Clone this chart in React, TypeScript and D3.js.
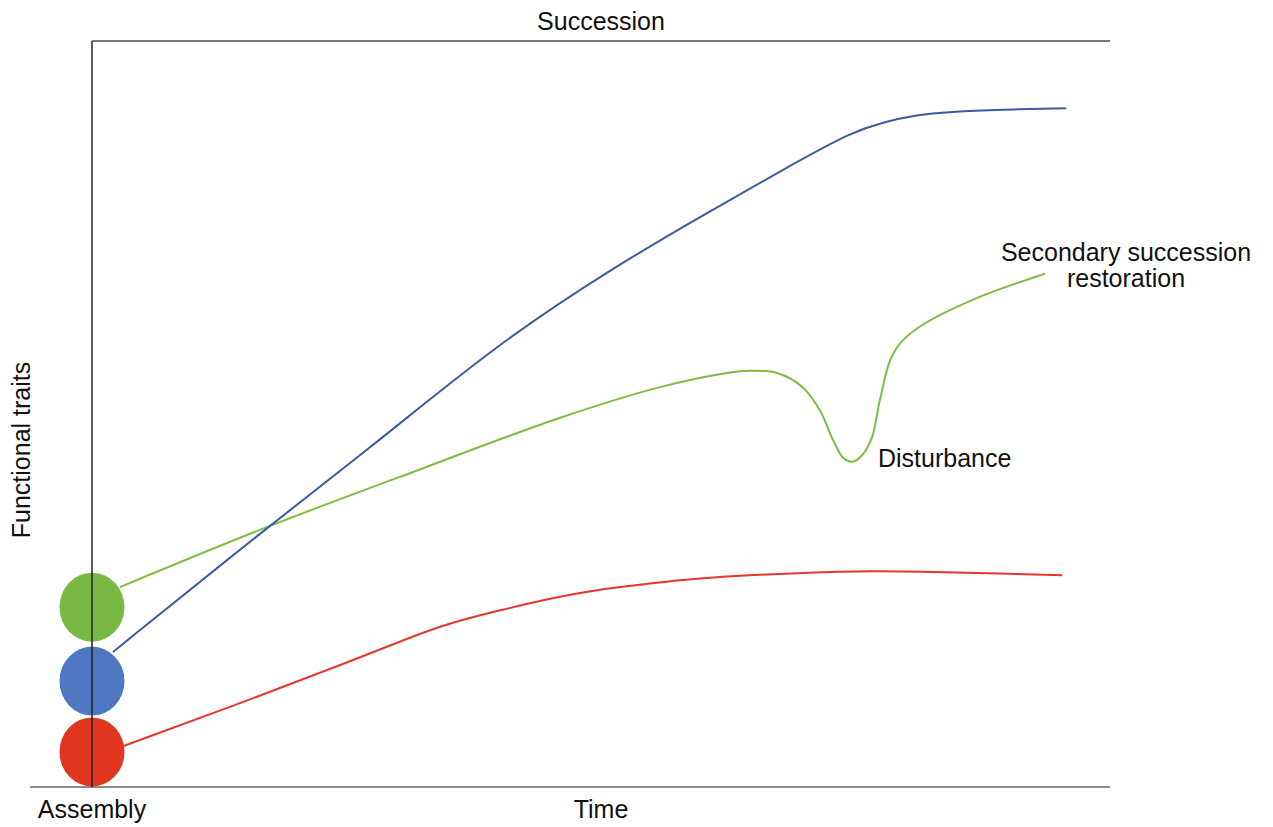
import React, { useRef, useEffect } from "react";
import * as d3 from "d3";

// [time, trait] points (time 0-100, trait 0-100)
const bluePath: [number, number][] = [
    [2.06, 18.1], [17.3, 34.9], [28.3, 46.5], [40.1, 59.7], [51.9, 70.2],
    [59.7, 76.4], [69.5, 84.0], [74.5, 87.7], [77.7, 89.1], [81.0, 90.1],
    [84.3, 90.5], [89.2, 90.8], [95.7, 91.0],
];
const greenPath: [number, number][] = [
    [2.75, 26.8], [17.3, 34.9], [30.3, 41.6], [46.0, 49.5], [55.8, 53.6],
    [62.4, 55.5], [64.6, 55.8], [67.3, 55.5], [69.8, 53.6], [71.5, 50.5],
    [72.8, 46.5], [73.8, 44.1], [74.7, 43.6], [75.6, 44.4], [76.6, 46.8],
    [77.4, 51.9], [78.4, 57.2], [79.4, 59.5], [81.3, 61.7], [86.5, 65.3],
    [93.6, 68.8],
];
const redPath: [number, number][] = [
    [3.1, 5.5], [15.5, 11.7], [25.3, 16.8], [31.9, 20.4], [35.2, 22.0],
    [40.1, 23.7], [45.0, 25.3], [49.9, 26.5], [54.8, 27.3], [59.7, 28.0],
    [64.6, 28.4], [69.5, 28.7], [76.4, 29.0], [84.3, 28.8], [95.3, 28.4],
];

// starting communities at assembly
const startNodes = [
    { name: "green", trait: 24.1 },
    { name: "blue", trait: 14.2 },
    { name: "red", trait: 4.7 },
];

const lineColors: Record<string, string> = { blue: "#3b5ca3", green: "#7cbd44", red: "#e6362a" };
const nodeColors: Record<string, string> = { blue: "#4f77c2", green: "#79b843", red: "#e0361f" };

const W = 1273;
const H = 827;

const App: React.FC = () => {
    const svgRef = useRef<SVGSVGElement | null>(null);

    useEffect(() => {
        if (!svgRef.current) return;
        const svg = d3.select(svgRef.current);
        svg.selectAll("*").remove();

        const x = d3.scaleLinear().domain([0, 100]).range([92, 1110]);
        const y = d3.scaleLinear().domain([0, 100]).range([787, 41]);

        const font = "'Liberation Sans', Arial, Helvetica, sans-serif";

        // frame lines
        svg.append("line")
            .attr("x1", 30).attr("x2", x(100))
            .attr("y1", y(0)).attr("y2", y(0))
            .attr("stroke", "#8a8a8a").attr("stroke-width", 2);
        svg.append("line")
            .attr("x1", x(0)).attr("x2", x(100))
            .attr("y1", y(100)).attr("y2", y(100))
            .attr("stroke", "#7a7a7a").attr("stroke-width", 1.8);

        // smooth curves; the green dip needs an interpolating curve
        const smooth = d3.line<[number, number]>()
            .x((d) => x(d[0]))
            .y((d) => y(d[1]))
            .curve(d3.curveBasis);
        const through = d3.line<[number, number]>()
            .x((d) => x(d[0]))
            .y((d) => y(d[1]))
            .curve(d3.curveCatmullRom.alpha(0.5));

        const paths: [string, [number, number][], typeof smooth][] = [
            ["red", redPath, smooth],
            ["green", greenPath, through],
            ["blue", bluePath, smooth],
        ];
        paths.forEach(([name, pts, gen]) => {
            svg.append("path")
                .attr("d", gen(pts))
                .attr("fill", "none")
                .attr("stroke", lineColors[name])
                .attr("stroke-width", 2);
        });

        // circles
        svg.selectAll(".node")
            .data(startNodes)
            .enter()
            .append("ellipse")
            .attr("cx", x(0))
            .attr("cy", (d) => y(d.trait))
            .attr("rx", 32.5)
            .attr("ry", 34.5)
            .attr("fill", (d) => nodeColors[d.name]);

        // vertical axis on top
        svg.append("line")
            .attr("x1", x(0)).attr("x2", x(0))
            .attr("y1", y(100)).attr("y2", y(0))
            .attr("stroke", "#222").attr("stroke-width", 1.5);

        const text = (t: string, tx: number, ty: number, anchor = "middle") =>
            svg.append("text")
                .attr("x", tx).attr("y", ty)
                .attr("text-anchor", anchor)
                .attr("font-family", font)
                .attr("font-size", 25)
                .attr("fill", "#111")
                .text(t);

        text("Succession", 601, 30);
        text("Assembly", 92, 818);
        text("Time", 601, 818);
        text("Secondary succession", 1126, 261);
        text("restoration", 1126, 287);
        text("Disturbance", 878, 467, "start");

        svg.append("text")
            .attr("transform", `translate(30,450) rotate(-90)`)
            .attr("text-anchor", "middle")
            .attr("font-family", font)
            .attr("font-size", 25)
            .attr("fill", "#111")
            .text("Functional traits");
    }, []);

    return (
        <div style={{ position: "absolute", left: 0, top: 0, background: "#fff" }}>
            <svg ref={svgRef} width={W} height={H}></svg>
        </div>
    );
};

export default App;
